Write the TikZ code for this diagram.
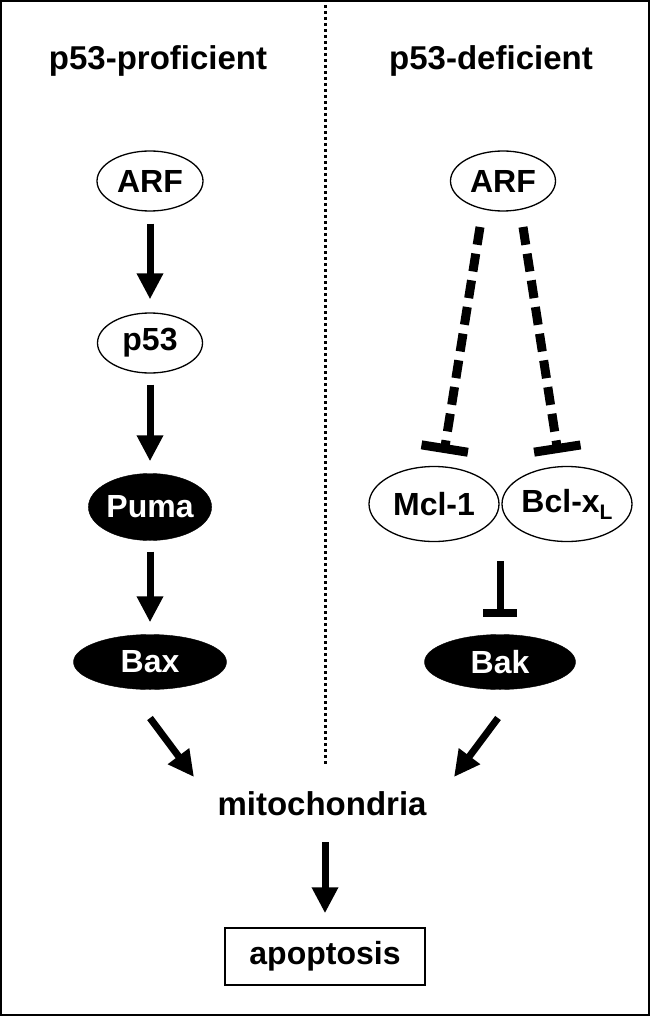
\documentclass[tikz,border=0pt]{standalone}
\usepackage{fontspec}
\setmainfont{Liberation Sans}
\usetikzlibrary{arrows.meta,shapes.geometric}
\begin{document}
\begin{tikzpicture}[x=1pt,y=-1pt,
  big/.style={font=\fontsize{33}{38}\selectfont\bfseries},
  txt/.style={font=\fontsize{32}{36}\selectfont\bfseries},
  oval/.style={ellipse, draw=black, line width=1.3pt, inner sep=0pt, txt},
  blackoval/.style={ellipse, draw=black, fill=black, text=white, inner sep=0pt, txt},
  act/.style={line width=7pt, -{Triangle[width=25pt,length=26pt]}},
  inh/.style={line width=9pt, dash pattern=on 18pt off 9pt, -{Bar[width=47pt,line width=9pt]}},
  inhsolid/.style={line width=7pt, -{Bar[width=34pt,line width=8pt]}},
]
\useasboundingbox (0,0) rectangle (650,1016);
\draw[line width=2pt] (1,1) rectangle (649,1015);

% divider
\coordinate (divtop) at (325,5);
\coordinate (divbot) at (325,765);
\draw[line width=3pt, dash pattern=on 3pt off 3pt] (divtop) -- (divbot);

% titles
\node[big, anchor=base] (t1) at (158,70) {p53-proficient};
\node[big, anchor=base] (t2) at (491,70) {p53-deficient};

% left column
\node[oval, minimum width=106pt, minimum height=60pt] (arfL) at (150,181) {ARF};
\node[oval, minimum width=105pt, minimum height=60pt] (p53) at (150,343) {p53};
\node[blackoval, minimum width=117pt, minimum height=67pt] (puma) at (150,507) {Puma};
\node[blackoval, minimum width=153pt, minimum height=55pt] (bax) at (150,662) {Bax};

\draw[act, shorten <=12pt, shorten >=13pt] (arfL) -- (p53);
\draw[act, shorten <=11pt, shorten >=12pt] (p53) -- (puma);
\draw[act, shorten <=11pt, shorten >=12pt] (puma) -- (bax);

% right column
\node[oval, minimum width=105pt, minimum height=60pt] (arfR) at (503,181) {ARF};
\node[oval, minimum width=130pt, minimum height=75pt] (mcl) at (434,504) {Mcl-1};
\node[oval, minimum width=130pt, minimum height=75pt] (bcl) at (567,504) {Bcl-x\raisebox{-7pt}{\fontsize{21}{21}\selectfont L}};
\node[blackoval, minimum width=151pt, minimum height=55pt] (bak) at (500,662) {Bak};

\coordinate (dl1) at (480,227);
\coordinate (dl2) at (444,453);
\coordinate (dr1) at (523,227);
\coordinate (dr2) at (558,453);
\draw[inh] (dl1) -- (dl2);
\draw[inh] (dr1) -- (dr2);

\coordinate (mb) at (500,561);
\draw[inhsolid, shorten >=17pt] (mb) -- (bak.north);

% bottom
\node[big, anchor=base] (mito) at (322,815) {mitochondria};
\node[txt, draw=black, line width=1.5pt, minimum width=200pt, minimum height=57pt, inner sep=0pt] (apo) at (325,956.5) {apoptosis};

\coordinate (baxout) at (150,718);
\coordinate (mitoL) at (194,777);
\coordinate (bakout) at (498,718);
\coordinate (mitoR) at (454,777);
\coordinate (mitobot) at (325,842);
\draw[act] (baxout) -- (mitoL);
\draw[act] (bakout) -- (mitoR);
\draw[act, shorten >=14pt] (mitobot) -- (apo.north);
\end{tikzpicture}
\end{document}
